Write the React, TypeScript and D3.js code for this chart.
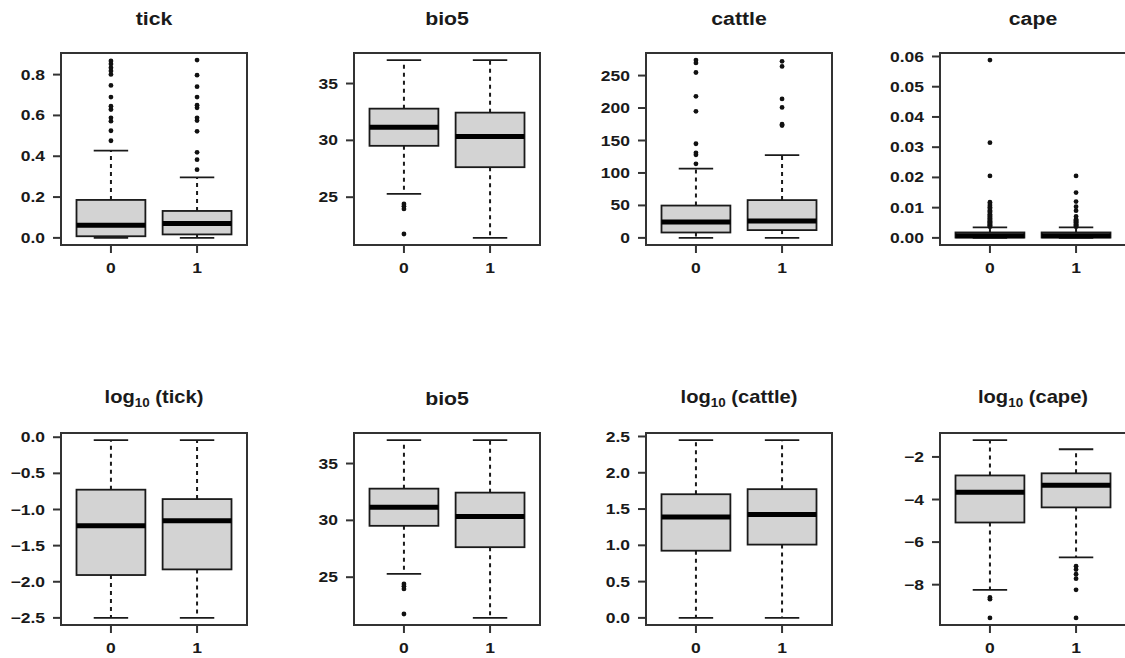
import React from "react";
import * as d3 from "d3";

// Group labels on the x axis of every panel
const groups = ["0", "1"];

// Five-number summaries per group: [lower whisker, Q1, median, Q3, upper whisker]
const tickStats0 = [0.0, 0.008, 0.062, 0.186, 0.428];
const tickStats1 = [0.0, 0.017, 0.071, 0.132, 0.296];
const tickOut0 = [0.476, 0.525, 0.572, 0.588, 0.629, 0.645, 0.69, 0.747, 0.801, 0.818, 0.834, 0.852, 0.867];
const tickOut1 = [0.334, 0.383, 0.419, 0.522, 0.575, 0.588, 0.637, 0.65, 0.69, 0.741, 0.797, 0.871];

const bio5Stats0 = [25.3, 29.52, 31.15, 32.79, 37.06];
const bio5Stats1 = [21.42, 27.64, 30.35, 32.44, 37.06];
const bio5Out0 = [24.4, 24.2, 23.97, 21.76];
const bio5Out1: number[] = [];

const cattleStats0 = [0, 8.3, 24.5, 49.8, 106.8];
const cattleStats1 = [0, 12, 26, 58.2, 127.6];
const cattleOut0 = [114, 128, 131, 145, 195, 218, 254.7, 269.5, 273.8];
const cattleOut1 = [173, 175, 201, 214, 264, 272];

const capeStats0 = [0, 0.0001, 0.0007, 0.0018, 0.0035];
const capeStats1 = [0, 0.0001, 0.0007, 0.0018, 0.0035];
const capeOut0 = [
  0.0037, 0.0039, 0.0042, 0.0044, 0.0047, 0.0049, 0.0052, 0.0055, 0.0057, 0.0061,
  0.0064, 0.0067, 0.0071, 0.0074, 0.0078, 0.0083, 0.0087, 0.0091, 0.0096, 0.0101,
  0.0106, 0.0112, 0.0118, 0.0205, 0.0315, 0.0588,
];
const capeOut1 = [
  0.0037, 0.0039, 0.0041, 0.0044, 0.0046, 0.0049, 0.0052, 0.0055, 0.0058, 0.0062,
  0.0071, 0.009, 0.0103, 0.012, 0.015, 0.0205,
];

const logTickStats0 = [-2.5, -1.907, -1.226, -0.726, -0.04];
const logTickStats1 = [-2.5, -1.829, -1.157, -0.856, -0.04];

const logCattleStats0 = [0, 0.926, 1.389, 1.704, 2.45];
const logCattleStats1 = [0, 1.01, 1.426, 1.774, 2.45];

const logCapeStats0 = [-8.24, -5.08, -3.66, -2.87, -1.21];
const logCapeStats1 = [-6.72, -4.37, -3.33, -2.77, -1.64];
const logCapeOut0 = [-8.6, -8.68, -9.56];
const logCapeOut1 = [-7.13, -7.29, -7.51, -7.72, -8.24, -9.56];

// Y-axis tick values
const tickTicks = [0, 0.2, 0.4, 0.6, 0.8];
const bio5Ticks = [25, 30, 35];
const cattleTicks = [0, 50, 100, 150, 200, 250];
const capeTicks = [0, 0.01, 0.02, 0.03, 0.04, 0.05, 0.06];
const logTickTicks = [-2.5, -2.0, -1.5, -1.0, -0.5, 0.0];
const logCattleTicks = [0, 0.5, 1.0, 1.5, 2.0, 2.5];
const logCapeTicks = [-8, -6, -4, -2];

type Panel = {
  name: string;
  log: boolean;
  stats: number[][];
  out: number[][];
  ticks: number[];
  fmt: string;
};

const panels: Panel[] = [
  { name: "tick", log: false, stats: [tickStats0, tickStats1], out: [tickOut0, tickOut1], ticks: tickTicks, fmt: ".1f" },
  { name: "bio5", log: false, stats: [bio5Stats0, bio5Stats1], out: [bio5Out0, bio5Out1], ticks: bio5Ticks, fmt: "d" },
  { name: "cattle", log: false, stats: [cattleStats0, cattleStats1], out: [cattleOut0, cattleOut1], ticks: cattleTicks, fmt: "d" },
  { name: "cape", log: false, stats: [capeStats0, capeStats1], out: [capeOut0, capeOut1], ticks: capeTicks, fmt: ".2f" },
  { name: "tick", log: true, stats: [logTickStats0, logTickStats1], out: [[], []], ticks: logTickTicks, fmt: ".1f" },
  { name: "bio5", log: false, stats: [bio5Stats0, bio5Stats1], out: [bio5Out0, bio5Out1], ticks: bio5Ticks, fmt: "d" },
  { name: "cattle", log: true, stats: [logCattleStats0, logCattleStats1], out: [[], []], ticks: logCattleTicks, fmt: ".1f" },
  { name: "cape", log: true, stats: [logCapeStats0, logCapeStats1], out: [logCapeOut0, logCapeOut1], ticks: logCapeTicks, fmt: "d" },
];

const W = 1125;
const H = 658;
const colLeft = [61, 354, 646, 940];
const rowTop = [53, 433];
const plotW = 186;
const plotH = 192;
const FONT = "'Liberation Sans', Arial, Helvetica, sans-serif";
const INK = "#1a1a1a";
// text is drawn slightly wide
const LABEL_SX = 1.25;
const TITLE_SX = 1.12;

function BoxPanel({ p, left, top }: { p: Panel; left: number; top: number }) {
  const all = [...p.stats.flat(), ...p.out.flat()];
  const lo = d3.min(all) as number;
  const hi = d3.max(all) as number;
  const pad = (hi - lo) * 0.04;
  const y = d3.scaleLinear().domain([lo - pad, hi + pad]).range([top + plotH, top]);
  const x = d3.scaleLinear().domain([0.42, 2.58]).range([left, left + plotW]);
  const bw = x(1.4) - x(1);
  const fmt = (v: number) => d3.format(p.fmt)(v).replace("-", "\u2212");
  const cx = left + plotW / 2;

  return (
    <g>
      {/* panel title */}
      {p.log ? (
        <text
          transform={`translate(${cx},${top - 30}) scale(${TITLE_SX},1)`}
          textAnchor="middle"
          fontFamily={FONT}
          fontWeight="bold"
          fontSize={18}
          fill={INK}
        >
          log
          <tspan fontSize={12} dy={4}>10</tspan>
          <tspan dy={-4}>{` (${p.name})`}</tspan>
        </text>
      ) : (
        <text
          transform={`translate(${cx},${top - 28}) scale(${TITLE_SX},1)`}
          textAnchor="middle"
          fontFamily={FONT}
          fontWeight="bold"
          fontSize={19}
          fill={INK}
        >
          {p.name}
        </text>
      )}

      {/* boxes */}
      {p.stats.map((s, i) => {
        const c = x(i + 1);
        const [w0, q1, med, q3, w1] = s;
        return (
          <g key={i}>
            <line x1={c} x2={c} y1={y(q3)} y2={y(w1)} stroke={INK} strokeWidth={2} strokeDasharray="4,4" />
            <line x1={c} x2={c} y1={y(q1)} y2={y(w0)} stroke={INK} strokeWidth={2} strokeDasharray="4,4" />
            <line x1={c - bw / 2} x2={c + bw / 2} y1={y(w1)} y2={y(w1)} stroke={INK} strokeWidth={1.8} />
            <line x1={c - bw / 2} x2={c + bw / 2} y1={y(w0)} y2={y(w0)} stroke={INK} strokeWidth={1.8} />
            <rect
              x={c - bw}
              y={y(q3)}
              width={bw * 2}
              height={Math.max(0, y(q1) - y(q3))}
              fill="#d3d3d3"
              stroke={INK}
              strokeWidth={1.8}
            />
            <line x1={c - bw} x2={c + bw} y1={y(med)} y2={y(med)} stroke="#000" strokeWidth={5} />
            {p.out[i].map((v, j) => (
              <circle key={j} cx={c} cy={y(v)} r={2.4} fill="#111" />
            ))}
          </g>
        );
      })}

      {/* frame */}
      <rect x={left} y={top} width={plotW} height={plotH} fill="none" stroke="#333" strokeWidth={2} />

      {/* y axis */}
      {p.ticks.map((t) => (
        <g key={t}>
          <line x1={left - 8} x2={left} y1={y(t)} y2={y(t)} stroke="#333" strokeWidth={2} />
          <text
            transform={`translate(${left - 16},${y(t)}) scale(${LABEL_SX},1)`}
            dy="0.36em"
            textAnchor="end"
            fontFamily={FONT}
            fontWeight="bold"
            fontSize={14}
            fill={INK}
          >
            {fmt(t)}
          </text>
        </g>
      ))}

      {/* x axis */}
      {groups.map((g, i) => (
        <g key={g}>
          <line x1={x(i + 1)} x2={x(i + 1)} y1={top + plotH} y2={top + plotH + 8} stroke="#333" strokeWidth={2} />
          <text
            transform={`translate(${x(i + 1)},${top + plotH + 23}) scale(${LABEL_SX},1)`}
            dy="0.36em"
            textAnchor="middle"
            fontFamily={FONT}
            fontWeight="bold"
            fontSize={14}
            fill={INK}
          >
            {g}
          </text>
        </g>
      ))}
    </g>
  );
}

export default function App() {
  return (
    <svg
      width={W}
      height={H}
      viewBox={`0 0 ${W} ${H}`}
      style={{ position: "absolute", left: 0, top: 0, background: "#fff" }}
    >
      <rect width={W} height={H} fill="#fff" />
      {panels.map((p, k) => (
        <BoxPanel key={k} p={p} left={colLeft[k % 4]} top={rowTop[Math.floor(k / 4)]} />
      ))}
    </svg>
  );
}
